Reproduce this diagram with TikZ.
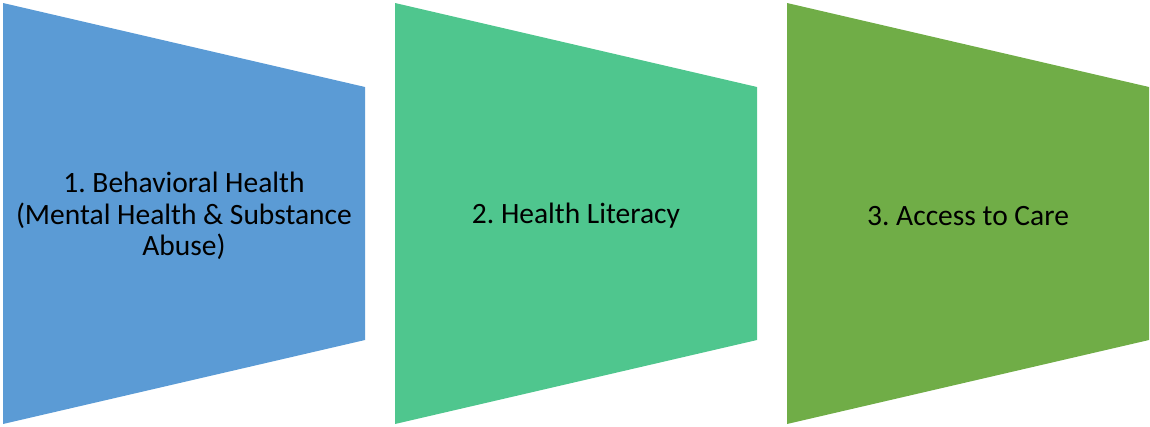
\documentclass[tikz,border=0pt]{standalone}
\usepackage{fontspec}
\setmainfont{Carlito}
\frenchspacing
\definecolor{stepblue}{HTML}{5B9BD5}
\definecolor{stepteal}{HTML}{4FC68E}
\definecolor{stepgreen}{HTML}{70AD47}
\begin{document}
\begin{tikzpicture}[x=1pt,y=-1pt,
  panel/.style={draw=none},
  label/.style={font=\fontsize{29.5}{31.5}\selectfont, align=center, text=black, inner sep=0pt}]
  \useasboundingbox (0,0) rectangle (1150,426);
  % three tapering panels, wide on the left, narrow on the right
  \foreach \x/\c in {3/stepblue, 395/stepteal, 787/stepgreen}{
    \fill[panel, fill=\c] (\x,3) -- (\x+362,87) -- (\x+362,340) -- (\x,424) -- cycle;
  }
  \node[label] (b1) at (184,216) {1. Behavioral Health\\(Mental Health \& Substance\\Abuse)};
  \node[label] (b2) at (576,216) {2. Health Literacy};
  \node[label] (b3) at (968,216) {3. Access to Care};
\end{tikzpicture}
\end{document}
